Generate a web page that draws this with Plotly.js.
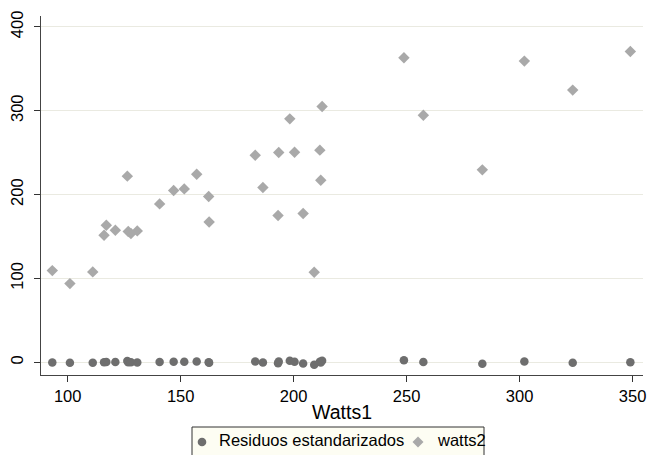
<!DOCTYPE html>
<html>
<head>
<meta charset="utf-8">
<script src="https://cdn.plot.ly/plotly-3.0.1.min.js"></script>
<style>html,body{margin:0;padding:0;background:#fff;}#chart{width:648px;height:455px;}</style>
</head>
<body>
<div id="chart"></div>
<script>
// ---- data ----
var watts1 = [93.2, 101.0, 111.1, 116.1, 117.1, 121.1, 126.4, 126.8, 128.0, 130.8,
              140.7, 146.9, 151.6, 157.1, 162.4, 162.6, 183.0, 186.4, 193.1, 193.4,
              198.3, 200.4, 204.2, 209.1, 211.6, 212.0, 212.6, 248.8, 257.4, 283.5,
              302.1, 323.5, 349.0];
var watts2 = [109.3, 93.8, 107.8, 151.5, 163.5, 157.5, 222.0, 155.9, 153.5, 156.7,
              188.9, 204.8, 206.8, 224.3, 197.6, 167.4, 247.0, 208.4, 175.0, 250.1,
              290.3, 250.6, 177.4, 107.4, 253.0, 217.2, 305.0, 363.1, 294.7, 229.5,
              359.2, 324.6, 370.7];
var residuos = [-0.2, -0.5, -0.6, 0.1, 0.4, 0.2, 1.4, 0.1, -0.1, -0.2,
                0.4, 0.7, 0.6, 0.9, 0.1, -0.7, 0.9, -0.2, -1.2, 0.8,
                1.8, 0.6, -1.4, -3.0, 0.6, -0.4, 1.9, 2.5, 0.3, -1.8,
                1.0, -0.5, 0.0];
var seriesNames = ["Residuos estandarizados", "watts2"];
var xTicks = [100, 150, 200, 250, 300, 350];
var yTicks = [0, 100, 200, 300, 400];
var xTitle = "Watts1";

// ---- styling / layout ----
var FONT = "Liberation Sans, Arial, Helvetica, sans-serif";
var cResid = "#6e6e6e", cWatts = "#a9a9a9";
var W = 648, H = 455, mL = 41, mR = 5, mT = 16, mB = 80;
var pw = W - mL - mR, ph = H - mT - mB;
function px(x){ return (x - mL) / pw; }
function py(y){ return (H - mB - y) / ph; }

var traces = [
  {x: watts1, y: residuos, name: seriesNames[0], type: "scatter", mode: "markers",
   marker: {symbol: "circle", size: 8.5, color: cResid, line: {width: 0}}},
  {x: watts1, y: watts2, name: seriesNames[1], type: "scatter", mode: "markers",
   marker: {symbol: "diamond", size: 8.8, color: cWatts, line: {width: 0}}}
];

// manual Stata-like legend box
var legTop = 427, legBot = 475, legL = 192, legR = 484, legY = 440;
var shapes = [
  {type: "rect", xref: "paper", yref: "paper", x0: px(legL), x1: px(legR), y0: py(legBot), y1: py(legTop),
   fillcolor: "#fdfdf3", line: {color: "#333333", width: 1}, layer: "above"},
  {type: "circle", xref: "paper", yref: "paper", xsizemode: "pixel", ysizemode: "pixel",
   xanchor: px(202), yanchor: py(legY + 2), x0: -4.3, x1: 4.3, y0: -4.3, y1: 4.3,
   fillcolor: cResid, line: {width: 0}, layer: "above"},
  {type: "path", xref: "paper", yref: "paper", xsizemode: "pixel", ysizemode: "pixel",
   xanchor: px(418), yanchor: py(legY + 2), path: "M 0 5.5 L 5.5 0 L 0 -5.5 L -5.5 0 Z",
   fillcolor: cWatts, line: {width: 0}, layer: "above"}
];
var annotations = [
  {text: seriesNames[0], xref: "paper", yref: "paper", x: px(217), y: py(legY), xanchor: "left", yanchor: "middle",
   showarrow: false, font: {family: FONT, size: 16.5, color: "#000"}},
  {text: seriesNames[1], xref: "paper", yref: "paper", x: px(435), y: py(legY), xanchor: "left", yanchor: "middle",
   showarrow: false, font: {family: FONT, size: 16.5, color: "#000"}}
];

var layout = {
  width: W, height: H,
  margin: {l: mL, r: mR, t: mT, b: mB, pad: 0, autoexpand: false},
  paper_bgcolor: "#ffffff", plot_bgcolor: "#ffffff",
  showlegend: false,
  font: {family: FONT, color: "#000"},
  xaxis: {
    range: [88.2, 354.6], tickmode: "array", tickvals: xTicks, ticktext: xTicks.map(String),
    ticks: "outside", ticklen: 6, tickcolor: "#333", tickwidth: 1,
    showline: true, linecolor: "#444", linewidth: 1.2, showgrid: false, zeroline: false,
    tickfont: {family: FONT, size: 16.5, color: "#000"},
    title: {text: xTitle, font: {family: FONT, size: 19.5, color: "#000"}, standoff: 1},
    automargin: false
  },
  yaxis: {
    range: [-15.2, 413], tickmode: "array", tickvals: yTicks, ticktext: yTicks.map(String),
    ticks: "outside", ticklen: 6, tickcolor: "#333", tickwidth: 1, tickangle: -90,
    showline: true, linecolor: "#444", linewidth: 1.2, showgrid: true, gridcolor: "#eaeae1", gridwidth: 1,
    zeroline: false, ticklabelstandoff: 4,
    tickfont: {family: FONT, size: 16.5, color: "#000"},
    automargin: false
  },
  shapes: shapes,
  annotations: annotations
};

Plotly.newPlot("chart", traces, layout, {displayModeBar: false, staticPlot: true});
</script>
</body>
</html>
